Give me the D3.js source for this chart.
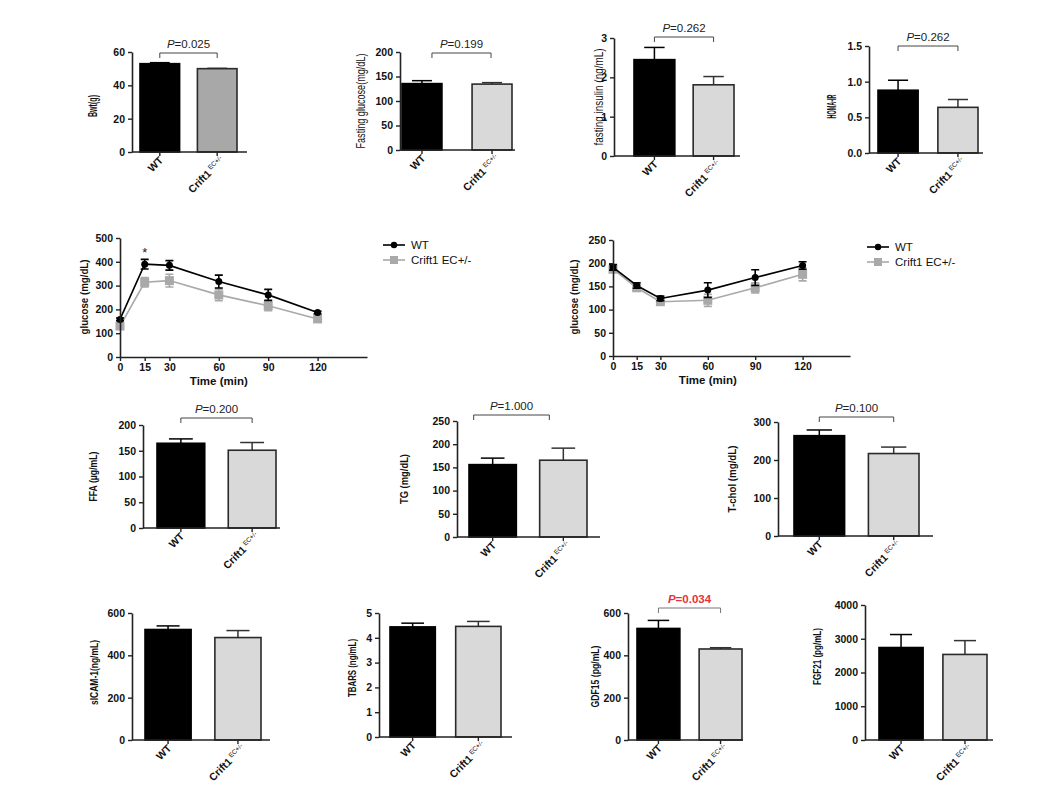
<!DOCTYPE html>
<html><head><meta charset="utf-8">
<script src="https://cdn.jsdelivr.net/npm/d3@7"></script>
<style>body{margin:0;background:#fff} text{font-family:"Liberation Sans",Arial,sans-serif}</style>
</head><body><svg id="c" width="1064" height="800"></svg>
<script>
// ---------- DATA ----------
const groups = ["WT", "Crift1"];
const bwtMean = [53, 50], bwtErr = [0.6, 0.2];
const fgluMean = [135.5, 134.5], fgluErr = [6, 3];
const finsMean = [2.45, 1.81], finsErr = [0.31, 0.21];
const homaMean = [0.88, 0.64], homaErr = [0.14, 0.11];
const ffaMean = [164.5, 151], ffaErr = [8.5, 15];
const tgMean = [156, 165.5], tgErr = [14, 26];
const tcholMean = [264, 217], tcholErr = [15, 17];
const sicamMean = [522, 484], sicamErr = [17, 33];
const tbarsMean = [4.44, 4.46], tbarsErr = [0.15, 0.2];
const gdf15Mean = [527, 430], gdf15Err = [38, 6];
const fgf21Mean = [2740, 2535], fgf21Err = [385, 410];

const bwtTicks = [0, 20, 40, 60];
const fgluTicks = [0, 50, 100, 150, 200];
const finsTicks = [0, 1, 2, 3];
const homaTicks = [0, 0.5, 1.0, 1.5];
const ffaTicks = [0, 50, 100, 150, 200];
const tgTicks = [0, 50, 100, 150, 200, 250];
const tcholTicks = [0, 100, 200, 300];
const sicamTicks = [0, 200, 400, 600];
const tbarsTicks = [0, 1, 2, 3, 4, 5];
const gdf15Ticks = [0, 200, 400, 600];
const fgf21Ticks = [0, 1000, 2000, 3000, 4000];

const pValues = ["0.025", "0.199", "0.262", "0.262", "0.200", "1.000", "0.100", "0.034"];

const timePoints = [0, 15, 30, 60, 90, 120];
const timeTicks = [0, 15, 30, 60, 90, 120];
const gttWT = [158, 390, 385, 317, 261, 187], gttWTErr = [6, 20, 20, 27, 23, 5];
const gttKO = [130, 314, 321, 261, 215, 160], gttKOErr = [10, 20, 27, 24, 20, 14];
const ittWT = [191, 152, 124, 142, 169, 195], ittWTErr = [6, 6, 5, 16, 17, 8];
const ittKO = [187, 147, 117, 120, 147, 176], ittKOErr = [6, 6, 4, 13, 11, 14];
const gttTicks = [0, 100, 200, 300, 400, 500];
const ittTicks = [0, 50, 100, 150, 200, 250];
const legendNames = ["WT", "Crift1 EC+/-"];

// ---------- DRAW ----------
const svg = d3.select("#c");
const FONT = '"Liberation Sans",Arial,sans-serif';

function yAxis(g, y, ticks, fmt, x0) {
  const ax = d3.axisLeft(y).tickValues(ticks).tickSize(4).tickSizeOuter(0).tickPadding(3)
    .tickFormat(d3.format(fmt || "d"));
  const a = g.append("g").attr("transform", `translate(${x0},0)`).call(ax);
  a.select(".domain").attr("stroke", "#222").attr("stroke-width", 1.6);
  a.selectAll(".tick line").attr("stroke", "#222").attr("stroke-width", 1.4);
  a.selectAll(".tick text").attr("font-family", FONT).attr("font-weight", "bold").attr("font-size", 10.5).attr("fill", "#111");
}

function yLabel(g, txt, x, yc, len, bold, size) {
  g.append("text").attr("transform", `translate(${x},${yc}) rotate(-90)`)
    .attr("text-anchor", "middle").attr("dominant-baseline", "middle")
    .attr("font-size", size || 11.5).attr("font-weight", bold ? "bold" : "normal")
    .attr("fill", "#111")
    .attr("textLength", len).attr("lengthAdjust", "spacingAndGlyphs").text(txt);
}

function barPanel(cfg) {
  const g = svg.append("g");
  const y = d3.scaleLinear().domain([0, cfg.max]).range([cfg.yZero, cfg.yTop]);
  const x = d3.scaleBand().domain(groups).range(cfg.bars).paddingInner(cfg.pad).paddingOuter(0);
  const bw = x.bandwidth();
  const fills = ["#000", cfg.koFill || "#d9d9d9"];
  groups.forEach((gname, i) => {
    const cx = x(gname) + bw / 2;
    const top = y(cfg.mean[i] + cfg.err[i]);
    const col = i === 0 ? "#000" : "#333";
    g.append("line").attr("x1", cx).attr("x2", cx).attr("y1", y(cfg.mean[i])).attr("y2", top).attr("stroke", col).attr("stroke-width", 1.5);
    g.append("line").attr("x1", cx - bw * 0.25).attr("x2", cx + bw * 0.25).attr("y1", top).attr("y2", top).attr("stroke", col).attr("stroke-width", 1.5);
  });
  g.selectAll("rect.b").data(groups).join("rect")
    .attr("x", d => x(d)).attr("width", bw)
    .attr("y", (d, i) => y(cfg.mean[i])).attr("height", (d, i) => cfg.yZero - y(cfg.mean[i]))
    .attr("fill", (d, i) => fills[i]).attr("stroke", (d, i) => i === 0 ? "#000" : "#2a2a2a").attr("stroke-width", 1.6);
  g.append("line").attr("x1", cfg.x0).attr("x2", cfg.xEnd).attr("y1", cfg.yZero).attr("y2", cfg.yZero).attr("stroke", "#222").attr("stroke-width", 1.6);
  groups.forEach(gname => {
    const cx = x(gname) + bw / 2;
    g.append("line").attr("x1", cx).attr("x2", cx).attr("y1", cfg.yZero).attr("y2", cfg.yZero + 4).attr("stroke", "#222").attr("stroke-width", 1.4);
  });
  yAxis(g, y, cfg.ticks, cfg.fmt, cfg.x0);
  const cw = x("WT") + bw / 2, ck = x("Crift1") + bw / 2;
  g.append("text").attr("transform", `translate(${cw + 4},${cfg.yZero + 9}) rotate(-45)`)
    .attr("text-anchor", "end").attr("font-size", 10.5).attr("font-weight", "bold").attr("fill", "#111").text("WT");
  const t = g.append("text").attr("transform", `translate(${ck + 8},${cfg.yZero + 9}) rotate(-45)`)
    .attr("text-anchor", "end").attr("font-size", 10.5).attr("font-weight", "bold").attr("fill", "#111");
  t.append("tspan").text("Crift1");
  t.append("tspan").attr("font-size", 6.5).attr("font-weight", "normal").attr("dx", 2).attr("dy", -4).text("EC+/-");
  yLabel(g, cfg.label, cfg.labelX, (cfg.yZero + cfg.yTop) / 2 + (cfg.labelDy || 0), cfg.labelLen, cfg.labelBold, cfg.labelSize);
  if (cfg.p !== undefined) {
    const dx = cfg.bracketDx || [0, 0];
    const bx1 = cw + dx[0], bx2 = ck + dx[1], by = cfg.bracketY;
    g.append("path").attr("d", `M${bx1},${by + 5}V${by}H${bx2}V${by + 5}`).attr("fill", "none")
      .attr("stroke", cfg.pRed ? "#777" : "#444").attr("stroke-width", 1);
    const pt = g.append("text").attr("x", (bx1 + bx2) / 2).attr("y", by - 5).attr("text-anchor", "middle")
      .attr("font-size", 11.5).attr("fill", cfg.pRed ? "#e5323b" : "#222").attr("font-weight", cfg.pRed ? "bold" : "normal");
    pt.append("tspan").attr("font-style", "italic").text("P");
    pt.append("tspan").text("=" + cfg.p);
  }
}

const panels = [
  {mean: bwtMean, err: bwtErr, ticks: bwtTicks, max: 60, x0: 132, xEnd: 247, yTop: 52, yZero: 152, bars: [140, 237], pad: 0.31, koFill: "#a8a8a8", label: "Bwt(g)", labelX: 94, labelLen: 22, labelBold: true, labelSize: 13, labelDy: 4, p: pValues[0], bracketY: 53},
  {mean: fgluMean, err: fgluErr, ticks: fgluTicks, max: 200, x0: 400, xEnd: 515, yTop: 52, yZero: 150, bars: [402, 512], pad: 0.43, label: "Fasting glucose(mg/dL)", labelX: 362, labelLen: 95, labelSize: 12, p: pValues[1], bracketY: 53, bracketDx: [10, -1]},
  {mean: finsMean, err: finsErr, ticks: finsTicks, max: 3, x0: 614, xEnd: 740, yTop: 38, yZero: 156, bars: [634, 734], pad: 0.31, label: "fasting insulin (ng/mL)", labelX: 600, labelLen: 97, labelSize: 12, p: pValues[2], bracketY: 37},
  {mean: homaMean, err: homaErr, ticks: homaTicks, fmt: ".1f", max: 1.5, x0: 869, xEnd: 983, yTop: 46, yZero: 153, bars: [878, 978], pad: 0.33, label: "HOMA-IR", labelX: 833, labelLen: 24, labelBold: true, labelSize: 13, labelDy: 7, p: pValues[3], bracketY: 46},
  {mean: ffaMean, err: ffaErr, ticks: ffaTicks, max: 200, x0: 143, xEnd: 280, yTop: 425, yZero: 528, bars: [157, 276], pad: 0.33, label: "FFA (µg/mL)", labelX: 94, labelLen: 50, labelBold: true, p: pValues[4], bracketY: 418},
  {mean: tgMean, err: tgErr, ticks: tgTicks, max: 250, x0: 457, xEnd: 600, yTop: 421, yZero: 537, bars: [469, 587], pad: 0.33, label: "TG (mg/dL)", labelX: 405, labelLen: 50, labelBold: true, p: pValues[5], bracketY: 415, bracketDx: [-19, -14]},
  {mean: tcholMean, err: tcholErr, ticks: tcholTicks, max: 300, x0: 778, xEnd: 933, yTop: 422, yZero: 536, bars: [794, 919], pad: 0.32, label: "T-chol (mg/dL)", labelX: 733, labelLen: 67, labelBold: true, p: pValues[6], bracketY: 417},
  {mean: sicamMean, err: sicamErr, ticks: sicamTicks, max: 600, x0: 132, xEnd: 270, yTop: 613, yZero: 740, bars: [145, 261], pad: 0.34, label: "sICAM-1(ng/mL)", labelX: 95, labelLen: 65, labelBold: true, labelDy: -4},
  {mean: tbarsMean, err: tbarsErr, ticks: tbarsTicks, max: 5, x0: 379, xEnd: 512, yTop: 613, yZero: 737, bars: [390, 501], pad: 0.31, label: "TBARS (ng/mL)", labelX: 353, labelLen: 58, labelBold: true, labelDy: -7},
  {mean: gdf15Mean, err: gdf15Err, ticks: gdf15Ticks, max: 600, x0: 628, xEnd: 743, yTop: 613, yZero: 740, bars: [637, 742], pad: 0.31, label: "GDF15 (pg/mL)", labelX: 596, labelLen: 62, labelBold: true, p: pValues[7], pRed: true, bracketY: 608},
  {mean: fgf21Mean, err: fgf21Err, ticks: fgf21Ticks, max: 4000, x0: 865, xEnd: 993, yTop: 605, yZero: 740, bars: [879, 987], pad: 0.31, label: "FGF21 (pg/mL)", labelX: 818, labelLen: 57, labelBold: true, labelDy: -16}
];
panels.forEach(barPanel);

function linePanel(cfg) {
  const g = svg.append("g");
  const x = d3.scaleLinear().domain([0, 150]).range([cfg.x0, cfg.xEnd]);
  const y = d3.scaleLinear().domain([0, cfg.max]).range([cfg.yZero, cfg.yTop]);
  const series = [
    {v: cfg.ko, e: cfg.koErr, col: "#a9a9a9", marker: "square"},
    {v: cfg.wt, e: cfg.wtErr, col: "#000", marker: "circle"}
  ];
  series.forEach(s => {
    const line = d3.line().x((d, i) => x(timePoints[i])).y(d => y(d));
    g.append("path").attr("d", line(s.v)).attr("fill", "none").attr("stroke", s.col).attr("stroke-width", 1.6);
    s.v.forEach((d, i) => {
      const cx = x(timePoints[i]);
      const y1 = y(d - s.e[i]), y2 = y(d + s.e[i]);
      g.append("path").attr("d", `M${cx},${y1}V${y2}M${cx - 4},${y1}H${cx + 4}M${cx - 4},${y2}H${cx + 4}`)
        .attr("stroke", s.col).attr("stroke-width", 1.6).attr("fill", "none");
      if (s.marker === "square") g.append("rect").attr("x", cx - 4.5).attr("y", y(d) - 4.5).attr("width", 9).attr("height", 9).attr("fill", s.col);
      else g.append("circle").attr("cx", cx).attr("cy", y(d)).attr("r", 3.5).attr("fill", s.col);
    });
  });
  yAxis(g, y, cfg.ticks, null, cfg.x0);
  const ax = d3.axisBottom(x).tickValues(timeTicks).tickSize(4).tickSizeOuter(0).tickPadding(3);
  const a = g.append("g").attr("transform", `translate(0,${cfg.yZero})`).call(ax);
  a.select(".domain").attr("stroke", "#222").attr("stroke-width", 1.6);
  a.selectAll(".tick line").attr("stroke", "#222").attr("stroke-width", 1.4);
  a.selectAll(".tick text").attr("font-family", FONT).attr("font-weight", "bold").attr("font-size", 10.5).attr("fill", "#111");
  g.append("text").attr("x", (cfg.x0 + x(120)) / 2).attr("y", cfg.yZero + 28).attr("text-anchor", "middle")
    .attr("font-size", 11.5).attr("font-weight", "bold").attr("fill", "#111").text("Time (min)");
  yLabel(g, "glucose (mg/dL)", cfg.labelX, cfg.labelY, 75, true, 11.5);
  const L = g.append("g").attr("transform", `translate(${cfg.legX},${cfg.legY})`);
  L.append("line").attr("x1", 0).attr("x2", 22).attr("y1", 0).attr("y2", 0).attr("stroke", "#000").attr("stroke-width", 1.6);
  L.append("circle").attr("cx", 11).attr("cy", 0).attr("r", 3.2).attr("fill", "#000");
  L.append("text").attr("x", 28).attr("y", 4).attr("font-size", 11.5).attr("fill", "#111").text(legendNames[0]);
  L.append("line").attr("x1", 0).attr("x2", 22).attr("y1", 15).attr("y2", 15).attr("stroke", "#a9a9a9").attr("stroke-width", 1.6);
  L.append("rect").attr("x", 7).attr("y", 11).attr("width", 8).attr("height", 8).attr("fill", "#a9a9a9");
  L.append("text").attr("x", 28).attr("y", 19).attr("font-size", 11.5).attr("fill", "#111").text(legendNames[1]);
  if (cfg.star) {
    g.append("text").attr("x", x(15)).attr("y", y(cfg.wt[1] + cfg.wtErr[1]) - 2).attr("text-anchor", "middle")
      .attr("font-size", 13).attr("fill", "#222").text("*");
  }
}

linePanel({wt: gttWT, wtErr: gttWTErr, ko: gttKO, koErr: gttKOErr, max: 500, ticks: gttTicks,
  x0: 120, xEnd: 367, yTop: 238, yZero: 357, labelX: 85, labelY: 297, legX: 383, legY: 245, star: true});
linePanel({wt: ittWT, wtErr: ittWTErr, ko: ittKO, koErr: ittKOErr, max: 250, ticks: ittTicks,
  x0: 613, xEnd: 850, yTop: 240, yZero: 356, labelX: 575, labelY: 297, legX: 867, legY: 247});
</script></body></html>
